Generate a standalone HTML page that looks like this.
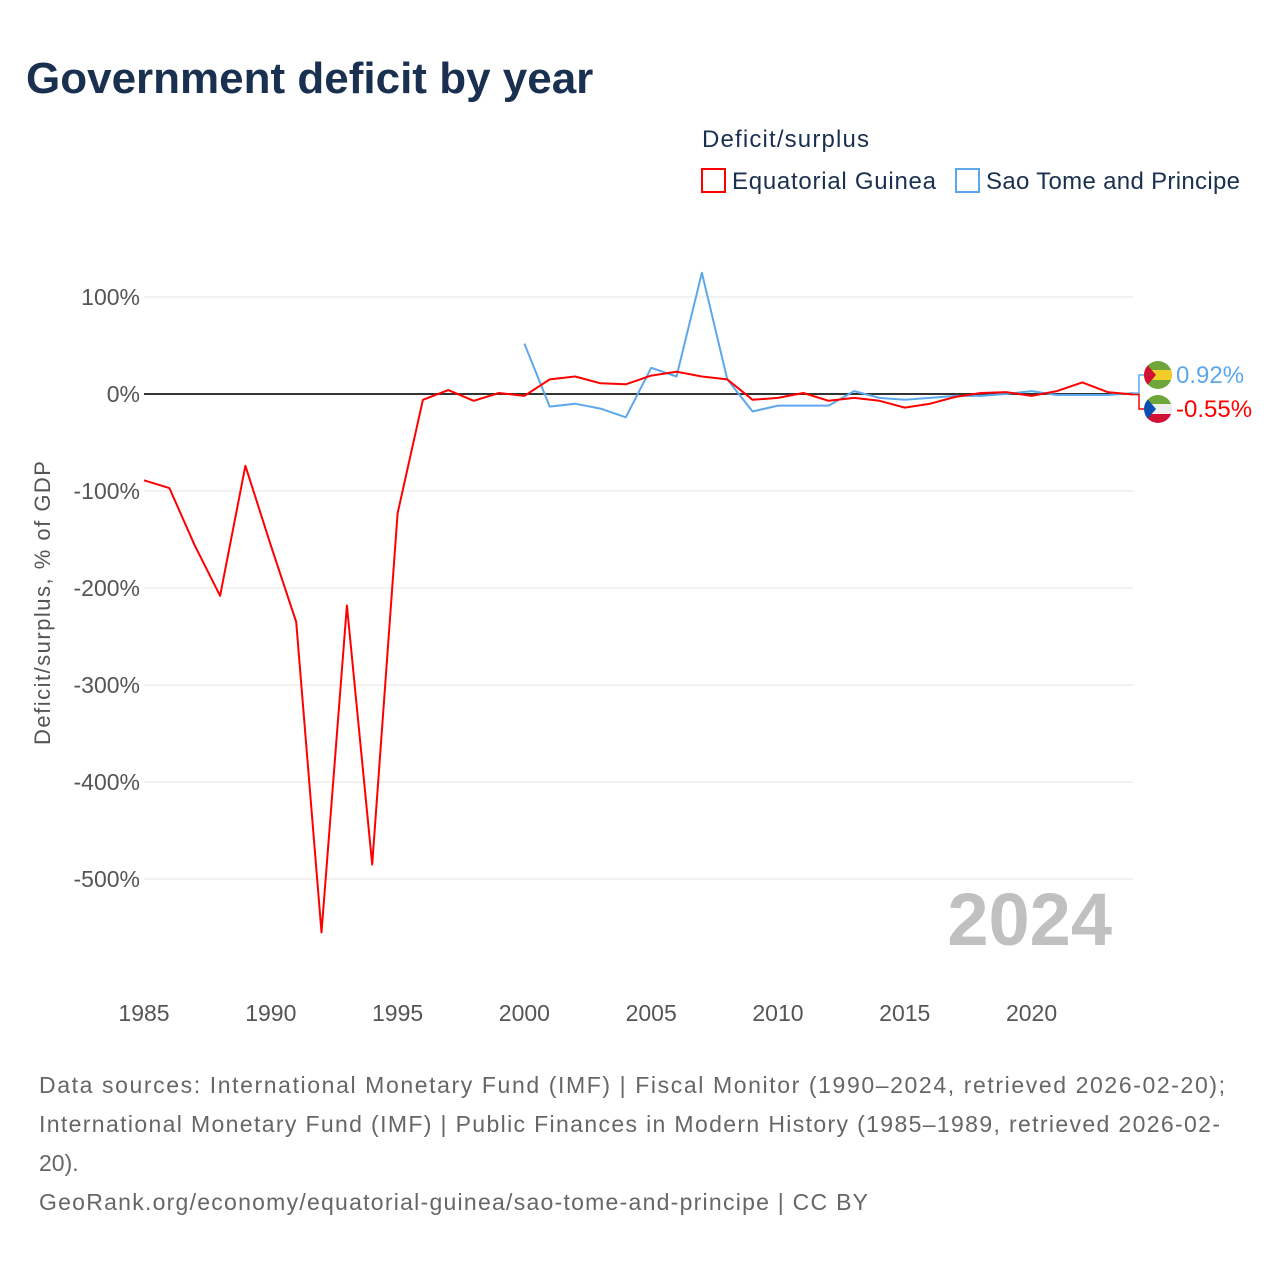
<!DOCTYPE html>
<html><head><meta charset="utf-8"><style>
body{margin:0;background:#fff;font-family:"Liberation Sans",sans-serif;}
svg text{font-family:"Liberation Sans",sans-serif;}
</style></head><body>
<svg id="chart" width="1280" height="1280" xmlns="http://www.w3.org/2000/svg">
<defs>
<clipPath id="c1"><circle cx="1158" cy="375" r="14"/></clipPath>
<clipPath id="c2"><circle cx="1158" cy="409" r="14"/></clipPath>
</defs>
<text x="26" y="93" font-size="44" font-weight="bold" fill="#1a3050">Government deficit by year</text>
<g>
<text x="702" y="147" font-size="24" fill="#1a3050" textLength="167">Deficit/surplus</text>
<rect x="702" y="169" width="23" height="23" fill="none" stroke="#f00" stroke-width="2"/>
<text x="732" y="189" font-size="24" fill="#1a3050" textLength="204">Equatorial Guinea</text>
<rect x="956" y="169" width="23" height="23" fill="none" stroke="#5da8eb" stroke-width="2"/>
<text x="986" y="189" font-size="24" fill="#1a3050" textLength="254">Sao Tome and Principe</text>
</g>
<g id="grid"></g>
<g id="yticks"></g>
<g id="xticks"></g>
<text transform="translate(50,603) rotate(-90)" text-anchor="middle" font-size="22" fill="#555" textLength="284">Deficit/surplus, % of GDP</text>
<text x="1112" y="945" text-anchor="end" font-size="74" font-weight="bold" fill="#c0c0c0">2024</text>
<g id="series"></g>
<g id="labels"></g>
<g font-size="23" fill="#666">
<text x="39" y="1093" textLength="1186">Data sources: International Monetary Fund (IMF) | Fiscal Monitor (1990–2024, retrieved 2026-02-20);</text>
<text x="39" y="1132" textLength="1181">International Monetary Fund (IMF) | Public Finances in Modern History (1985–1989, retrieved 2026-02-</text>
<text x="39" y="1171">20).</text>
<text x="39" y="1210" textLength="829">GeoRank.org/economy/equatorial-guinea/sao-tome-and-principe | CC BY</text>
</g>
</svg>
<script>
const eqYears=[1985,1986,1987,1988,1989,1990,1991,1992,1993,1994,1995,1996,1997,1998,1999,2000,2001,2002,2003,2004,2005,2006,2007,2008,2009,2010,2011,2012,2013,2014,2015,2016,2017,2018,2019,2020,2021,2022,2023,2024];
const eqValues=[-89,-97,-156,-208,-74,-156,-235,-555,-218,-485,-123,-6,4,-7,1,-2,15,18,11,10,19,23,18,15,-6,-4,1,-7,-4,-7,-14,-10,-3,1,2,-2,3,12,2,-0.55];
const stpYears=[2000,2001,2002,2003,2004,2005,2006,2007,2008,2009,2010,2011,2012,2013,2014,2015,2016,2017,2018,2019,2020,2021,2022,2023,2024];
const stpValues=[52,-13,-10,-15,-24,27,18,125,15,-18,-12,-12,-12,3,-4,-6,-4,-2,-2,0,3,-1,-1,-1,0.92];
const yTicks=[100,0,-100,-200,-300,-400,-500];
const xTicks=[1985,1990,1995,2000,2005,2010,2015,2020];
const NS='http://www.w3.org/2000/svg';
const xS=y=>144+(y-1985)*(1133-144)/39;
const yS=v=>394-v*0.97;
function mk(tag,attrs,parent){const e=document.createElementNS(NS,tag);for(const k in attrs)e.setAttribute(k,attrs[k]);parent.appendChild(e);return e;}
const grid=document.getElementById('grid'),yt=document.getElementById('yticks'),xt=document.getElementById('xticks');
yTicks.forEach(v=>{
 const l=mk('line',{x1:144,x2:1133,y1:yS(v),y2:yS(v),stroke:v===0?'#333':'#e6e6e6','stroke-width':v===0?2:1},grid);
 
 
 const t=mk('text',{x:140,y:yS(v)+8,'text-anchor':'end','font-size':23,fill:'#555'},yt);
 t.textContent=v+'%';
 
 
});
xTicks.forEach(y=>{
 const t=mk('text',{x:xS(y),y:1021,'text-anchor':'middle','font-size':23,fill:'#555'},xt);
 t.textContent=y;
 
 
});
const ser=document.getElementById('series');
function line(ys,vs,color,name){
 const d=ys.map((y,i)=>(i?'L':'M')+xS(y).toFixed(1)+','+yS(vs[i]).toFixed(1)).join('');
 const p=mk('path',{d:d,fill:'none',stroke:color,'stroke-width':2,'stroke-linejoin':'round'},ser);
 
 
}
line(stpYears,stpValues,'#5da8eb','line-sao-tome');
line(eqYears,eqValues,'#f00','line-equatorial-guinea');
const lab=document.getElementById('labels');
function endLabel(v,ly,color,name,clip,flag){
 const x0=xS(2024),y0=yS(v);
 const c=mk('path',{d:`M${x0},${y0}H${x0+6}V${ly}H${x0+12}`,fill:'none',stroke:color,'stroke-width':1.5},lab);
 
 
 const g=mk('g',{'clip-path':'url(#'+clip+')'},lab);
 
 
 flag(g,1158,ly);
 const t=mk('text',{x:1176,y:ly+8,'font-size':24,fill:color},lab);
 t.textContent=v.toFixed(2)+'%';
 
 
}
endLabel(stpValues[stpValues.length-1],375,'#5da8eb','sao-tome','c1',(g,cx,cy)=>{
 mk('rect',{x:cx-14,y:cy-14,width:28,height:28,fill:'#6ea63a'},g);
 mk('rect',{x:cx-14,y:cy-5,width:28,height:10,fill:'#f2cc28'},g);
 mk('path',{d:`M${cx-14},${cy-14}L${cx-2},${cy}L${cx-14},${cy+14}Z`,fill:'#d21034'},g);
});
endLabel(eqValues[eqValues.length-1],409,'#f00','equatorial-guinea','c2',(g,cx,cy)=>{
 mk('rect',{x:cx-14,y:cy-14,width:28,height:28,fill:'#eee'},g);
 mk('rect',{x:cx-14,y:cy-14,width:28,height:9,fill:'#6ea63a'},g);
 mk('rect',{x:cx-14,y:cy+5,width:28,height:9,fill:'#d21034'},g);
 mk('path',{d:`M${cx-14},${cy-14}L${cx-2},${cy}L${cx-14},${cy+14}Z`,fill:'#0c4fb0'},g);
});
</script>
</body></html>
